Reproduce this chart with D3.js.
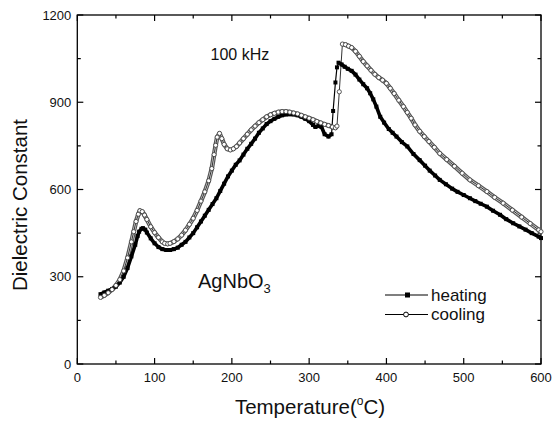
<!DOCTYPE html>
<html>
<head>
<meta charset="utf-8">
<script src="https://cdn.jsdelivr.net/npm/d3@7"></script>
<style>
  html, body { margin: 0; padding: 0; background: #fff; }
  svg { display: block; font-family: "Liberation Sans", Arial, sans-serif; }
</style>
</head>
<body>
<svg id="chart" width="552" height="421"></svg>
<script>
// Dielectric constant of AgNbO3 at 100 kHz, heating and cooling runs
const heatT = [30,35,40,45,50,55,60,65,70,75,78,80,83,85,88,90,95,100,105,110,115,120,125,130,135,140,145,150,155,160,165,170,175,180,185,190,195,200,205,210,215,220,225,230,235,240,245,250,255,260,265,270,275,280,285,290,295,300,305,308,312,316,320,325,329,331,334,336,338,342,346,350,355,360,365,370,375,379,383,387,392,397,403,408,413,420,427,435,443,450,456,463,469,477,485,492,500,508,515,522,530,538,547,555,564,572,580,588,597,600];
const heatE = [240,246,252,258,266,280,300,330,370,410,440,455,465,467,462,452,432,415,402,395,392,392,395,400,410,420,435,450,470,490,510,530,550,570,595,620,645,665,685,700,720,740,757,775,795,810,825,835,843,850,855,858,859,858,855,850,843,835,822,815,818,815,790,782,790,870,968,1020,1036,1030,1022,1015,1008,995,978,962,948,931,910,885,850,830,808,795,782,763,748,722,701,682,665,648,633,618,603,592,581,570,560,551,541,527,513,498,484,473,462,450,438,433];

const coolT = [30,35,40,45,50,55,60,65,70,73,76,79,81,84,87,90,95,100,105,110,113,117,120,125,130,135,140,145,150,155,160,165,170,174,177,179,181,184,187,190,194,198,202,206,210,215,220,225,230,235,240,245,250,255,260,265,270,275,280,285,290,295,300,305,310,315,320,325,330,334,336,339,343,347,351,355,360,365,370,375,380,385,390,395,400,405,410,416,422,427,432,437,443,449,455,462,469,478,488,498,508,519,530,540,551,563,575,586,597,600];
const coolE = [229,236,245,256,270,290,320,365,420,455,490,515,527,524,512,497,472,452,435,420,415,413,415,421,430,443,460,480,501,528,560,592,630,672,720,752,780,793,775,755,740,736,740,748,760,775,790,805,818,830,840,850,857,862,866,868,868,866,863,860,855,850,845,840,834,829,824,820,815,812,818,936,1100,1098,1093,1088,1075,1058,1040,1025,1010,996,985,976,965,948,930,907,885,865,845,822,800,782,765,745,724,703,680,656,633,613,593,573,553,529,505,483,461,455];

// temperature spans of the sparse-sampled jump at the transition
const heatJump = [329, 338];
const coolJump = [336, 343];

const xTicks = [0,100,200,300,400,500,600];
const yTicks = [0,300,600,900,1200];
const seriesNames = ["heating","cooling"];

const svg = d3.select("#chart");
const m = {left: 77.3, right: 541, top: 15, bottom: 364};

const x = d3.scaleLinear().domain([0,600]).range([m.left, m.right]);
const y = d3.scaleLinear().domain([0,1200]).range([m.bottom, m.top]);

// frame
svg.append("rect")
  .attr("x", m.left).attr("y", m.top)
  .attr("width", m.right - m.left).attr("height", m.bottom - m.top)
  .attr("fill", "none").attr("stroke", "#000").attr("stroke-width", 1.3);

// ticks on all four sides, pointing inward
const minorX = d3.range(0, 601, 50);
const minorY = d3.range(0, 1201, 150);
const tickG = svg.append("g").attr("stroke", "#000").attr("stroke-width", 1.2);
minorX.forEach(v => {
  const len = v % 100 === 0 ? 6 : 3.5;
  tickG.append("line").attr("x1", x(v)).attr("x2", x(v)).attr("y1", m.bottom).attr("y2", m.bottom - len);
  tickG.append("line").attr("x1", x(v)).attr("x2", x(v)).attr("y1", m.top).attr("y2", m.top + len);
});
minorY.forEach(v => {
  const len = v % 300 === 0 ? 6 : 3.5;
  tickG.append("line").attr("y1", y(v)).attr("y2", y(v)).attr("x1", m.left).attr("x2", m.left + len);
  tickG.append("line").attr("y1", y(v)).attr("y2", y(v)).attr("x1", m.right).attr("x2", m.right - len);
});

// tick labels
svg.append("g").selectAll("text").data(xTicks).join("text")
  .attr("x", d => x(d)).attr("y", 382)
  .attr("text-anchor", "middle").attr("font-size", 13).attr("fill", "#111")
  .text(d => d);
svg.append("g").selectAll("text").data(yTicks).join("text")
  .attr("x", m.left - 6).attr("y", d => y(d) + 4.5)
  .attr("text-anchor", "end").attr("font-size", 13).attr("fill", "#111")
  .text(d => d);

// axis titles
const xt = svg.append("text").attr("x", 310).attr("y", 414)
  .attr("text-anchor", "middle").attr("font-size", 20.5).attr("fill", "#111");
xt.append("tspan").text("Temperature(");
xt.append("tspan").attr("font-size", 12).attr("dy", -9).text("o");
xt.append("tspan").attr("dy", 9).text("C)");

svg.append("text")
  .attr("transform", "translate(27,205) rotate(-90)")
  .attr("text-anchor", "middle").attr("font-size", 20.5).attr("fill", "#111")
  .text("Dielectric Constant");

// series
const heat = heatT.map((t, i) => [t, heatE[i]]);
const cool = coolT.map((t, i) => [t, coolE[i]]);
const line = d3.line().x(d => x(d[0])).y(d => y(d[1]));
const splitAt = (pts, jump) => [pts.filter(d => d[0] <= jump[0]), pts.filter(d => d[0] >= jump[1])];

// cooling: densely packed open circles read as a grey band with a light core
splitAt(cool, coolJump).forEach(seg => {
  svg.append("path").datum(seg).attr("d", line)
    .attr("fill", "none").attr("stroke", "#555").attr("stroke-width", 4.6).attr("stroke-linejoin", "round");
  svg.append("path").datum(seg).attr("d", line)
    .attr("fill", "none").attr("stroke", "#ddd").attr("stroke-width", 2.2).attr("stroke-linejoin", "round");
});
svg.append("path").datum(cool).attr("d", line)
  .attr("fill", "none").attr("stroke", "#333").attr("stroke-width", 1);

// heating: densely packed solid squares read as a thick black stroke
splitAt(heat, heatJump).forEach(seg => {
  svg.append("path").datum(seg).attr("d", line)
    .attr("fill", "none").attr("stroke", "#000").attr("stroke-width", 3.6).attr("stroke-linejoin", "round");
});
svg.append("path").datum(heat).attr("d", line)
  .attr("fill", "none").attr("stroke", "#000").attr("stroke-width", 1.2);

svg.append("g").selectAll("rect").data(heat).join("rect")
  .attr("x", d => x(d[0]) - 2).attr("y", d => y(d[1]) - 2)
  .attr("width", 4).attr("height", 4).attr("fill", "#000");

svg.append("g").selectAll("circle").data(cool).join("circle")
  .attr("cx", d => x(d[0])).attr("cy", d => y(d[1])).attr("r", 2.1)
  .attr("fill", "#fff").attr("stroke", "#444").attr("stroke-width", 0.9);

// annotations
svg.append("text").attr("x", 210.5).attr("y", 59.5)
  .attr("font-size", 16).attr("fill", "#111").text("100 kHz");
const comp = svg.append("text").attr("x", 198).attr("y", 288)
  .attr("font-size", 20).attr("fill", "#111");
comp.append("tspan").text("AgNbO");
comp.append("tspan").attr("font-size", 13).attr("dy", 5).text("3");

// legend
const leg = svg.append("g");
seriesNames.forEach((name, i) => {
  const ly = 295 + i * 19.5;
  leg.append("line").attr("x1", 385).attr("x2", 428).attr("y1", ly).attr("y2", ly)
    .attr("stroke", "#000").attr("stroke-width", 1.2);
  if (i === 0) {
    leg.append("rect").attr("x", 405).attr("y", ly - 2.5).attr("width", 5).attr("height", 5).attr("fill", "#000");
  } else {
    leg.append("circle").attr("cx", 406).attr("cy", ly).attr("r", 2.4)
      .attr("fill", "#fff").attr("stroke", "#000").attr("stroke-width", 1);
  }
  leg.append("text").attr("x", 431).attr("y", ly + 5.5)
    .attr("font-size", 17).attr("fill", "#111").text(name);
});
</script>
</body>
</html>
